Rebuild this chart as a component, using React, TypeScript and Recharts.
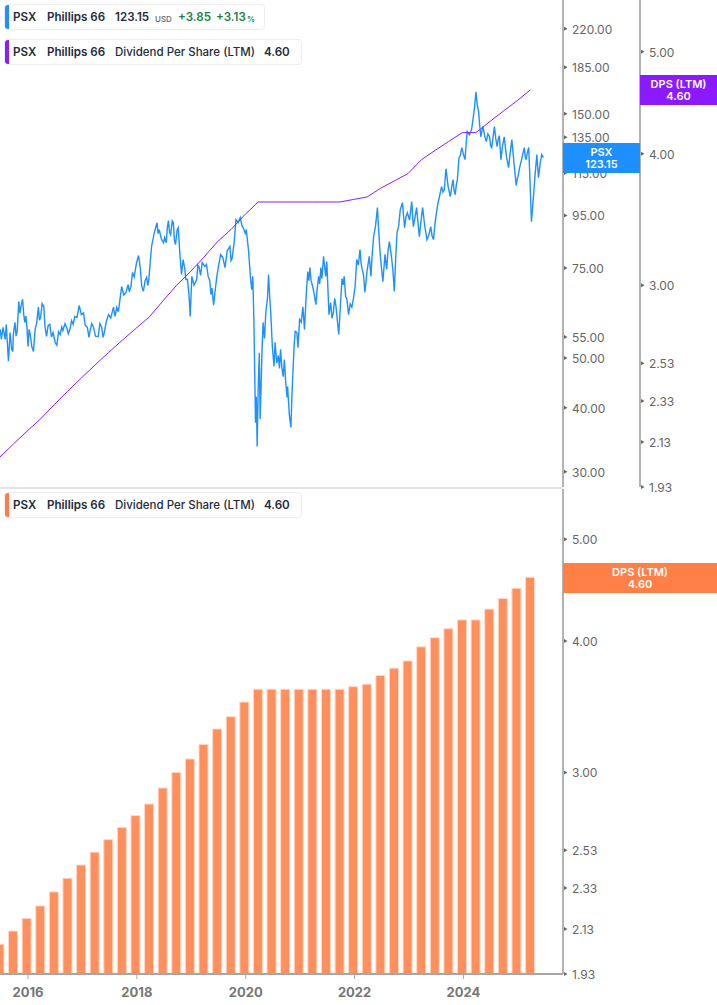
import { Bar, ComposedChart, Line, XAxis, YAxis } from "recharts";

const dpsYears = [
  2015.48, 2015.73, 2015.98, 2016.23, 2016.48, 2016.73, 2016.98, 2017.23, 2017.48, 2017.73,
  2017.98, 2018.23, 2018.48, 2018.73, 2018.98, 2019.23, 2019.48, 2019.73, 2019.98, 2020.23,
  2020.48, 2020.73, 2020.98, 2021.23, 2021.48, 2021.73, 2021.98, 2022.23, 2022.48, 2022.73,
  2022.98, 2023.23, 2023.48, 2023.73, 2023.98, 2024.23, 2024.48, 2024.73, 2024.98, 2025.23,
];
const dpsValues = [
  2.06, 2.12, 2.18, 2.24, 2.31, 2.38, 2.45, 2.52, 2.59, 2.66,
  2.73, 2.8, 2.9, 3.0, 3.09, 3.19, 3.3, 3.39, 3.5, 3.6,
  3.6, 3.6, 3.6, 3.6, 3.6, 3.6, 3.62, 3.64, 3.71, 3.77,
  3.83, 3.95, 4.03, 4.11, 4.19, 4.19, 4.29, 4.39, 4.49, 4.6,
];

const priceYears = [
  2015.49, 2015.51, 2015.54, 2015.58, 2015.6, 2015.64, 2015.67, 2015.7, 2015.72, 2015.73,
  2015.76, 2015.78, 2015.8, 2015.83, 2015.85, 2015.87, 2015.9, 2015.92, 2015.94, 2015.96,
  2015.98, 2016.0, 2016.02, 2016.04, 2016.07, 2016.1, 2016.13, 2016.16, 2016.19, 2016.21,
  2016.23, 2016.26, 2016.29, 2016.31, 2016.34, 2016.37, 2016.4, 2016.43, 2016.46, 2016.5,
  2016.53, 2016.56, 2016.59, 2016.62, 2016.64, 2016.68, 2016.71, 2016.74, 2016.77, 2016.8,
  2016.83, 2016.86, 2016.9, 2016.94, 2016.98, 2017.02, 2017.05, 2017.09, 2017.12, 2017.14,
  2017.17, 2017.2, 2017.24, 2017.29, 2017.32, 2017.35, 2017.38, 2017.4, 2017.44, 2017.48,
  2017.52, 2017.57, 2017.6, 2017.63, 2017.66, 2017.69, 2017.72, 2017.76, 2017.8, 2017.84,
  2017.86, 2017.89, 2017.92, 2017.95, 2017.99, 2018.03, 2018.06, 2018.09, 2018.12, 2018.15,
  2018.18, 2018.2, 2018.22, 2018.25, 2018.27, 2018.32, 2018.37, 2018.39, 2018.41, 2018.45,
  2018.49, 2018.51, 2018.54, 2018.56, 2018.58, 2018.6, 2018.62, 2018.65, 2018.67, 2018.69,
  2018.71, 2018.74, 2018.76, 2018.79, 2018.82, 2018.85, 2018.88, 2018.9, 2018.93, 2018.96,
  2018.98, 2019.01, 2019.05, 2019.1, 2019.12, 2019.14, 2019.17, 2019.2, 2019.25, 2019.28,
  2019.31, 2019.34, 2019.36, 2019.38, 2019.41, 2019.44, 2019.47, 2019.5, 2019.54, 2019.58,
  2019.62, 2019.66, 2019.71, 2019.73, 2019.75, 2019.79, 2019.82, 2019.86, 2019.9, 2019.93,
  2019.96, 2019.99, 2020.01, 2020.05, 2020.09, 2020.11, 2020.13, 2020.15, 2020.165, 2020.18,
  2020.195, 2020.21, 2020.23, 2020.25, 2020.265, 2020.28, 2020.3, 2020.32, 2020.345, 2020.37,
  2020.4, 2020.42, 2020.44, 2020.46, 2020.49, 2020.52, 2020.54, 2020.57, 2020.6, 2020.62,
  2020.64, 2020.665, 2020.69, 2020.71, 2020.735, 2020.76, 2020.77, 2020.8, 2020.83, 2020.85,
  2020.87, 2020.89, 2020.91, 2020.94, 2020.96, 2020.99, 2021.02, 2021.05, 2021.08, 2021.11,
  2021.14, 2021.16, 2021.18, 2021.2, 2021.23, 2021.26, 2021.29, 2021.31, 2021.34, 2021.36,
  2021.38, 2021.4, 2021.43, 2021.47, 2021.49, 2021.53, 2021.56, 2021.585, 2021.61, 2021.635,
  2021.66, 2021.685, 2021.71, 2021.74, 2021.77, 2021.79, 2021.81, 2021.835, 2021.86, 2021.89,
  2021.92, 2021.95, 2021.98, 2022.01, 2022.04, 2022.07, 2022.1, 2022.12, 2022.14, 2022.165,
  2022.19, 2022.23, 2022.27, 2022.3, 2022.325, 2022.35, 2022.385, 2022.42, 2022.445, 2022.47,
  2022.495, 2022.52, 2022.56, 2022.59, 2022.615, 2022.64, 2022.68, 2022.705, 2022.73, 2022.755,
  2022.78, 2022.81, 2022.84, 2022.88, 2022.9, 2022.92, 2022.945, 2022.97, 2023.01, 2023.05,
  2023.08, 2023.11, 2023.14, 2023.165, 2023.19, 2023.22, 2023.25, 2023.29, 2023.33, 2023.365,
  2023.4, 2023.425, 2023.45, 2023.475, 2023.5, 2023.53, 2023.56, 2023.58, 2023.6, 2023.625,
  2023.65, 2023.665, 2023.68, 2023.72, 2023.76, 2023.785, 2023.81, 2023.83, 2023.85, 2023.87,
  2023.89, 2023.905, 2023.92, 2023.945, 2023.97, 2024.0, 2024.03, 2024.05, 2024.07, 2024.11,
  2024.15, 2024.175, 2024.2, 2024.23, 2024.255, 2024.28, 2024.3, 2024.32, 2024.34, 2024.36,
  2024.39, 2024.42, 2024.45, 2024.48, 2024.5, 2024.52, 2024.545, 2024.57, 2024.595, 2024.62,
  2024.64, 2024.66, 2024.69, 2024.72, 2024.75, 2024.79, 2024.83, 2024.86, 2024.89, 2024.93,
  2024.97, 2024.99, 2025.01, 2025.035, 2025.06, 2025.09, 2025.12, 2025.135, 2025.15, 2025.175,
  2025.2, 2025.225, 2025.25, 2025.27, 2025.29, 2025.32, 2025.35, 2025.365, 2025.38, 2025.41,
  2025.44, 2025.47,
];
const priceValues = [
  56.9, 54.4, 57.4, 54.4, 58.2, 49.3, 56.1, 52.0, 51.5, 55.6,
  58.7, 55.2, 56.4, 64.5, 61.2, 63.0, 65.1, 61.0, 58.7, 60.4,
  57.4, 52.7, 56.9, 55.6, 52.6, 51.5, 56.9, 58.6, 62.9, 59.3,
  60.0, 63.9, 63.0, 57.8, 55.1, 57.9, 58.2, 55.0, 56.1, 53.6,
  53.0, 56.3, 55.6, 57.5, 56.6, 58.4, 57.4, 55.8, 56.9, 59.2,
  58.2, 60.3, 60.0, 63.4, 60.8, 61.3, 58.0, 57.4, 54.9, 56.6,
  58.4, 57.6, 55.2, 55.1, 58.4, 57.6, 54.9, 56.1, 59.0, 60.8,
  59.9, 62.9, 60.3, 62.8, 61.6, 65.1, 69.0, 66.4, 67.2, 69.6,
  67.4, 69.0, 73.5, 72.0, 76.4, 79.3, 75.5, 69.0, 67.5, 70.8,
  71.9, 69.3, 71.2, 78.0, 82.6, 87.8, 91.9, 87.5, 89.1, 85.4,
  84.0, 86.0, 84.0, 90.0, 92.8, 88.0, 87.1, 92.7, 91.9, 85.0,
  83.3, 89.0, 89.9, 80.0, 72.8, 77.9, 74.8, 71.2, 71.2, 66.0,
  60.3, 72.2, 69.4, 71.2, 76.0, 75.5, 72.5, 76.8, 75.5, 76.2,
  72.2, 70.8, 66.6, 68.5, 63.4, 68.0, 72.2, 75.6, 79.7, 78.6,
  75.1, 81.0, 82.6, 77.5, 78.3, 84.6, 93.2, 92.0, 94.1, 90.8,
  89.5, 87.6, 89.1, 81.5, 71.2, 68.0, 72.2, 59.5, 47.0, 37.4,
  42.0, 33.6, 44.0, 51.2, 38.0, 43.0, 52.0, 58.7, 54.6, 61.6,
  65.5, 72.8, 66.0, 61.3, 52.5, 48.2, 53.7, 48.9, 50.6, 47.7,
  52.0, 47.8, 46.0, 49.7, 44.8, 41.9, 44.0, 38.9, 36.6, 42.5,
  47.5, 53.0, 56.4, 56.1, 52.4, 59.5, 58.8, 63.0, 56.9, 66.0,
  73.8, 70.8, 75.1, 71.0, 69.0, 66.5, 63.6, 67.8, 72.2, 69.8,
  75.1, 71.5, 79.0, 72.2, 77.2, 60.8, 64.2, 59.8, 61.3, 65.4,
  62.9, 59.0, 55.6, 63.5, 71.5, 69.5, 72.2, 66.0, 65.1, 60.8,
  63.8, 62.9, 65.5, 69.0, 77.9, 76.0, 81.5, 76.6, 74.5, 72.6,
  67.2, 74.0, 79.0, 72.2, 80.0, 86.3, 90.5, 98.4, 88.0, 80.0,
  75.0, 70.5, 79.7, 74.5, 81.0, 84.4, 78.6, 74.0, 67.5, 78.0,
  87.9, 90.5, 97.5, 100.6, 95.0, 89.9, 94.5, 96.1, 93.0, 101.1,
  90.3, 94.0, 98.4, 92.0, 86.3, 92.5, 98.4, 90.5, 85.2, 87.0,
  90.3, 86.5, 85.2, 91.0, 95.3, 100.0, 103.4, 106.0, 108.1, 105.5,
  106.7, 112.0, 117.2, 108.0, 103.4, 108.0, 111.6, 106.0, 104.3, 109.0,
  111.6, 118.0, 123.2, 124.5, 128.9, 125.0, 122.1, 131.0, 138.5, 136.5,
  139.7, 146.0, 152.9, 165.6, 156.0, 151.5, 142.0, 135.3, 139.0, 141.6,
  136.0, 132.4, 137.0, 135.3, 130.0, 128.9, 135.0, 141.6, 134.0, 129.5,
  134.0, 136.0, 122.1, 130.0, 135.3, 124.0, 117.8, 126.0, 133.6, 120.0,
  108.7, 112.0, 114.0, 118.0, 120.9, 125.0, 128.9, 124.0, 122.1, 126.0,
  128.9, 110.0, 92.3, 98.0, 104.3, 115.0, 124.9, 118.0, 112.6, 120.0,
  124.9, 123.15,
];

const yearTicks = [2016, 2018, 2020, 2022, 2024];
const priceTicks = [30, 40, 50, 55, 75, 95, 115, 135, 150, 185, 220];
const dpsTicks = [1.93, 2.13, 2.33, 2.53, 3, 4, 5];

const priceRows = priceYears.map((year, i) => ({ year, price: priceValues[i] }));
const dpsRows = dpsYears.map((year, i) => ({ year, dps: dpsValues[i] }));

const FONT = "Inter, sans-serif";
const yearDomain = [2015.485, 2025.83];

function ValueTick({ x, y, payload }: any) {
  return (
    <g>
      <polygon points={`${x + 1},${y - 2} ${x + 4.5},${y} ${x + 1},${y + 2}`} fill="#666" />
      <text x={x + 9} y={y + 5} fontSize={12} fontFamily={FONT} fill="#666">
        {payload.value.toFixed(2)}
      </text>
    </g>
  );
}

function YearTick({ x, y, payload }: any) {
  return (
    <text x={x} y={y + 18} textAnchor="middle" fontSize={13} fontWeight={700} fontFamily={FONT} fill="#777">
      {payload.value}
    </text>
  );
}

function Legend({ top, width, color, children }: any) {
  return (
    <div
      style={{
        position: "absolute",
        left: 4,
        top,
        width,
        height: 26,
        boxSizing: "border-box",
        background: "#fff",
        border: "1px solid #eeeeee",
        borderRadius: 4,
        overflow: "hidden",
        fontFamily: FONT,
        fontSize: 11.6,
        lineHeight: "26px",
        fontWeight: 600,
        color: "#232b3a",
      }}
    >
      <div style={{ position: "absolute", left: 0, top: 0, bottom: 0, width: 4, background: color }} />
      {children}
    </div>
  );
}

function At({ x, style, children }: any) {
  return <span style={{ position: "absolute", left: x - 5, top: -1, whiteSpace: "nowrap", ...style }}>{children}</span>;
}

function DpsLegend({ top, color }: any) {
  return (
    <Legend top={top} width={298} color={color}>
      <At x={13}>PSX</At>
      <At x={47}>Phillips 66</At>
      <At x={115} style={{ fontWeight: 500, fontSize: 11.5 }}>Dividend Per Share (LTM)</At>
      <At x={264}>4.60</At>
    </Legend>
  );
}

function Flag({ left, top, width, color, title, value }: any) {
  return (
    <div
      style={{
        position: "absolute",
        left,
        top,
        width,
        height: 30,
        background: color,
        color: "#fff",
        fontFamily: FONT,
        fontSize: 11,
        fontWeight: 600,
        lineHeight: "12px",
        textAlign: "center",
        paddingTop: 3,
        boxSizing: "border-box",
      }}
    >
      <div>{title}</div>
      <div>{value}</div>
    </div>
  );
}

export default function App() {
  return (
    <div style={{ position: "absolute", left: 0, top: 0, width: 717, height: 1005, background: "#fff", overflow: "hidden" }}>
      <div style={{ position: "absolute", left: 0, top: 487, width: 563, height: 2, background: "#e4e4e4" }} />

      <div style={{ position: "absolute", left: 0, top: 0 }}>
        <ComposedChart width={717} height={495} margin={{ top: 0, right: 0, bottom: 8, left: 0 }}>
          <XAxis dataKey="year" type="number" domain={yearDomain} hide allowDataOverflow />
          <YAxis
            yAxisId={1}
            orientation="right"
            scale="log"
            domain={[28, 250.3]}
            ticks={priceTicks}
            interval={0}
            width={77}
            allowDataOverflow
            axisLine={{ stroke: "#b3b3b3", strokeWidth: 2 }}
            tickLine={false}
            tickSize={0}
            tickMargin={0}
            tick={ValueTick}
          />
          <YAxis
            yAxisId={2}
            orientation="right"
            scale="log"
            domain={[1.93, 5.6]}
            ticks={dpsTicks}
            interval={0}
            width={77}
            allowDataOverflow
            axisLine={{ stroke: "#b3b3b3", strokeWidth: 2 }}
            tickLine={false}
            tickSize={0}
            tickMargin={0}
            tick={ValueTick}
          />
          <Line
            yAxisId={1}
            data={priceRows}
            dataKey="price"
            type="linear"
            stroke="#1e90ff"
            strokeWidth={1.4}
            dot={false}
            isAnimationActive={false}
          />
          <Line
            yAxisId={2}
            data={dpsRows}
            dataKey="dps"
            type="linear"
            stroke="#8a1cff"
            strokeWidth={1}
            dot={false}
            isAnimationActive={false}
          />
        </ComposedChart>
      </div>

      <div style={{ position: "absolute", left: 0, top: 489 }}>
        <ComposedChart width={717} height={516} data={dpsRows} margin={{ top: 0, right: 0, bottom: 0, left: 0 }}>
          <XAxis
            dataKey="year"
            type="number"
            domain={yearDomain}
            ticks={yearTicks}
            interval={0}
            height={31}
            allowDataOverflow
            axisLine={{ stroke: "#a6a6a6", strokeWidth: 2 }}
            tickLine={{ stroke: "#a6a6a6" }}
            tickSize={5}
            tickMargin={0}
            tick={YearTick}
          />
          <YAxis
            orientation="right"
            scale="log"
            domain={[1.93, 5.58]}
            ticks={dpsTicks}
            interval={0}
            width={154}
            allowDataOverflow
            axisLine={{ stroke: "#b3b3b3", strokeWidth: 2 }}
            tickLine={false}
            tickSize={0}
            tickMargin={0}
            tick={ValueTick}
          />
          <Bar dataKey="dps" barSize={9} fill="#ff8f5c" stroke="#ffd8c6" strokeWidth={1} isAnimationActive={false} />
        </ComposedChart>
      </div>

      <Legend top={4} width={261} color="#1e90ff">
        <At x={13}>PSX</At>
        <At x={47}>Phillips 66</At>
        <At x={115}>123.15</At>
        <At x={155} style={{ fontSize: 8, fontWeight: 500, color: "#666", top: 1 }}>USD</At>
        <At x={178} style={{ color: "#1a7f4b" }}>+3.85</At>
        <At x={216} style={{ color: "#1a7f4b" }}>+3.13</At>
        <At x={247} style={{ fontSize: 8, color: "#1a7f4b", top: 1 }}>%</At>
      </Legend>
      <DpsLegend top={39} color="#8a1cff" />
      <DpsLegend top={492} color="#ff7d45" />

      <Flag left={563} top={143} width={77} color="#1e8fff" title="PSX" value="123.15" />
      <Flag left={640} top={75} width={77} color="#8c1aff" title="DPS (LTM)" value="4.60" />
      <Flag left={563} top={563} width={154} color="#ff8047" title="DPS (LTM)" value="4.60" />
    </div>
  );
}
